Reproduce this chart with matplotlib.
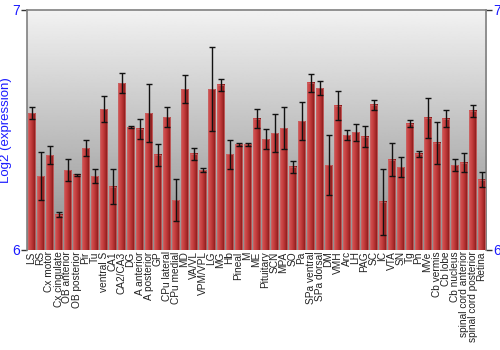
import numpy as np
import matplotlib
matplotlib.use('Agg')
from matplotlib import pyplot as plt

plt.rcParams['font.family'] = ['Liberation Sans', 'DejaVu Sans']

# 各脑区的表达量 (log2) 及误差
regions = ['LS', 'RS', 'Cx motor', 'Cx cingulate', 'OB anterior', 'OB posterior',
           'Pir', 'Tu', 'ventral S', 'CA1', 'CA2/CA3', 'DG', 'A anterior',
           'A posterior', 'GP', 'CPu lateral', 'CPu medial', 'MD', 'VA/VL',
           'VPM/VPL', 'LG', 'MG', 'Hb', 'Pineal', 'M', 'ME', 'Pituitary', 'SCN',
           'MPA', 'SO', 'Pa', 'SPa ventral', 'SPa dorsal', 'DM', 'VMH', 'Arc',
           'LH', 'PAG', 'SC', 'IC', 'VTA', 'SN', 'Tg', 'Pn', 'MVe', 'Cb vermis',
           'Cb lobe', 'Cb nucleus', 'spinal cord anterior',
           'spinal cord posterior', 'Retina']
values = [6.570, 6.308, 6.395, 6.146, 6.333, 6.313, 6.424, 6.308, 6.587, 6.264,
          6.695, 6.511, 6.504, 6.570, 6.396, 6.553, 6.208, 6.670, 6.400, 6.333,
          6.670, 6.688, 6.399, 6.440, 6.440, 6.547, 6.462, 6.486, 6.507, 6.346,
          6.537, 6.696, 6.674, 6.354, 6.600, 6.478, 6.489, 6.472, 6.604, 6.200,
          6.375, 6.345, 6.525, 6.400, 6.550, 6.446, 6.547, 6.353, 6.363, 6.579,
          6.293]
errors = [0.026, 0.100, 0.036, 0.010, 0.046, 0.005, 0.033, 0.028, 0.056, 0.071,
          0.041, 0.003, 0.041, 0.121, 0.046, 0.042, 0.088, 0.058, 0.024, 0.008,
          0.176, 0.025, 0.060, 0.007, 0.006, 0.038, 0.040, 0.078, 0.088, 0.026,
          0.078, 0.038, 0.028, 0.126, 0.060, 0.020, 0.034, 0.042, 0.021, 0.137,
          0.069, 0.040, 0.014, 0.013, 0.083, 0.088, 0.035, 0.026, 0.039, 0.024,
          0.031]

blue = '#1a1aff'
fig = plt.figure(figsize=(5, 3.5), dpi=100)
ax = fig.add_axes([0.054, 0.286, 0.918, 0.686])

x = np.arange(len(regions))
ax.set_xlim(-0.5, len(regions) - 0.5)
ax.set_ylim(6, 7)

# 背景渐变
grad = np.linspace(0.56, 0.95, 256).reshape(-1, 1)
ax.imshow(grad, cmap='gray', vmin=0, vmax=1, aspect='auto', origin='lower',
          extent=[-0.5, len(regions) - 0.5, 6, 7], zorder=0)

# 柱子 (横向渐变)
bar_cmap = matplotlib.colors.LinearSegmentedColormap.from_list(
    'barred', ['#d45656', '#c84242', '#ac2c2c', '#7e1616'])
shade = np.linspace(0, 1, 32).reshape(1, -1)
w = 0.86
for xi, v in zip(x, values):
    ax.imshow(shade, cmap=bar_cmap, aspect='auto', origin='lower',
              extent=[xi - w / 2, xi + w / 2, 6, v], zorder=2)
    ax.bar(xi, v - 6, bottom=6, width=w, facecolor='none',
           edgecolor='#c86464', linewidth=0.6, zorder=3)

ax.errorbar(x, values, yerr=errors, fmt='none', ecolor='#111111',
            elinewidth=1.0, capsize=2.2, capthick=1.0, zorder=4)

ax.set_xticks(x)
ax.set_xticklabels(regions, rotation=90, fontsize=7.3, color='#222222')
ax.tick_params(axis='x', length=0, pad=1)

ax.set_yticks([6, 7])
ax.set_yticklabels(['6', '7'])
ax.tick_params(axis='y', labelsize=10, colors='#333333', labelcolor=blue,
               length=4, width=1, right=True, labelright=True, direction='out',
               pad=1)
ax.set_ylabel('Log2 (expression)', color=blue, fontsize=9.5, labelpad=0)

for side in ['left', 'right', 'top']:
    ax.spines[side].set_color('#808080')
    ax.spines[side].set_linewidth(1.2)
ax.spines['bottom'].set_visible(False)

fig.savefig('out.png', dpi=100)
